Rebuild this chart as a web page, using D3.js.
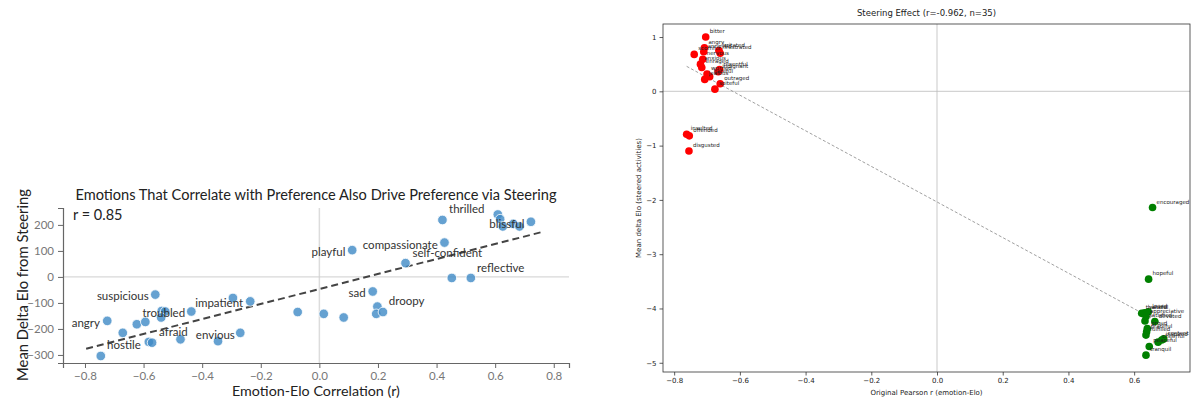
<!DOCTYPE html>
<html><head><meta charset="utf-8">
<script src="https://cdn.jsdelivr.net/npm/d3@7"></script>
<style>body{margin:0;background:#fff}svg{display:block}</style>
</head><body>
<svg id="c" width="1198" height="400"></svg>
<script>
// ---------- LEFT PANEL DATA ----------
const leftX = [0.42,0.609,0.617,0.626,0.662,0.683,0.722,0.427,0.112,0.294,0.452,0.517,0.182,
  -0.56,-0.295,-0.236,0.198,0.194,0.217,-0.074,0.015,0.083,-0.437,-0.538,-0.526,-0.54,
  -0.724,-0.623,-0.594,-0.671,-0.474,-0.582,-0.571,-0.346,-0.27,-0.746];
const leftY = [219,240,222,194,204,194,212,132,103,53,-4,-4,-56,
  -68,-81,-94,-114,-142,-135,-135,-142,-156,-133,-131,-133,-156,
  -169,-182,-173,-215,-240,-250,-253,-247,-215,-304];
const labelNames = ["thrilled","blissful","compassionate","self-confident","playful","reflective","sad",
  "suspicious","impatient","troubled","droopy","angry","afraid","envious","hostile"];
const labelX = [0.503,0.64,0.276,0.437,0.031,0.619,0.129,-0.671,-0.342,-0.531,0.298,-0.797,-0.498,-0.355,-0.667];
const labelY = [246,187,108,76,81,20,-76,-88,-117,-156,-108,-191,-226,-238,-278];
const leftTicksX = [-0.8,-0.6,-0.4,-0.2,0.0,0.2,0.4,0.6,0.8];
const leftTicksY = [-300,-200,-100,0,100,200];
const leftFitX = [-0.796, 0.761];
const leftFitY = [-276, 173];

// ---------- RIGHT PANEL DATA ----------
const rightNames = ["bitter","angry","annoyed","irritated","frustrated","scornful","nervous","anxious","enraged",
  "resentful","worried","hateful","jealous","indignant","outraged","spiteful","insulted","offended","disgusted",
  "encouraged","hopeful","thankful","valued","loved","appreciative","satisfied","devoted","proud","grateful",
  "fulfilled","content","inspired","cheerful","peaceful","tranquil"];
const rightX = [-0.704,-0.708,-0.710,-0.664,-0.660,-0.739,-0.713,-0.720,-0.716,-0.662,-0.700,-0.692,-0.707,-0.666,-0.660,-0.676,-0.762,-0.754,-0.755,
  0.656,0.644,0.623,0.632,0.643,0.636,0.633,0.663,0.640,0.638,0.636,0.690,0.684,0.673,0.646,0.636];
const rightY = [1.00,0.80,0.73,0.75,0.70,0.68,0.59,0.50,0.44,0.40,0.32,0.27,0.22,0.36,0.14,0.04,-0.79,-0.82,-1.10,
  -2.14,-3.46,-4.09,-4.08,-4.06,-4.15,-4.23,-4.24,-4.37,-4.43,-4.49,-4.56,-4.58,-4.62,-4.70,-4.86];
const rightTicksX = [-0.8,-0.6,-0.4,-0.2,0.0,0.2,0.4,0.6];
const rightTicksY = [-5,-4,-3,-2,-1,0,1];
const rightFitX = [-0.762, 0.690];
const rightFitY = [0.46, -4.30];

const svg = d3.select("#c");
svg.append("rect").attr("width",1198).attr("height",400).attr("fill","#fff");
const fmtMinus = s => String(s).replace("-", "\u2212");

// ================= LEFT =================
const LF = "Lato, 'Noto Sans', sans-serif";
const xL = d3.scaleLinear().domain([-0.875, 0.852]).range([63, 569]);
const yL = d3.scaleLinear().domain([-331, 265]).range([363, 208]);
const gL = svg.append("g");

gL.append("line").attr("x1",xL(0)).attr("x2",xL(0)).attr("y1",yL.range()[1]).attr("y2",yL.range()[0])
  .attr("stroke","#dcdcdc").attr("stroke-width",1.5);
gL.append("line").attr("x1",xL.range()[0]).attr("x2",xL.range()[1]).attr("y1",yL(0)).attr("y2",yL(0))
  .attr("stroke","#cfcfcf").attr("stroke-width",1);

const axL = gL.append("g").attr("transform",`translate(0,${yL.range()[0]})`)
  .call(d3.axisBottom(xL).tickValues(leftTicksX).tickFormat(d=>fmtMinus(d3.format(".1f")(d))).tickSize(5).tickPadding(4));
const ayL = gL.append("g").attr("transform",`translate(${xL.range()[0]},0)`)
  .call(d3.axisLeft(yL).tickValues(leftTicksY).tickFormat(d=>fmtMinus(d)).tickSize(5).tickPadding(4));
[axL, ayL].forEach(a=>{
  a.select(".domain").attr("stroke","#666").attr("stroke-width",1.2);
  a.selectAll(".tick line").attr("stroke","#666");
  a.selectAll(".tick text").attr("fill","#777").attr("font-size",11.5).attr("font-family",LF);
});

gL.append("line").attr("x1",xL(leftFitX[0])).attr("y1",yL(leftFitY[0])).attr("x2",xL(leftFitX[1])).attr("y2",yL(leftFitY[1]))
  .attr("stroke","#444").attr("stroke-width",2).attr("stroke-dasharray","7,4");

gL.selectAll("circle.p").data(leftX.map((x,i)=>[x,leftY[i]])).join("circle")
  .attr("cx",d=>xL(d[0])).attr("cy",d=>yL(d[1])).attr("r",4.8)
  .attr("fill","#3f8ac6").attr("fill-opacity",0.8).attr("stroke","#fff").attr("stroke-width",0.8);

gL.selectAll("text.lab").data(labelNames).join("text")
  .attr("x",(d,i)=>xL(labelX[i])).attr("y",(d,i)=>yL(labelY[i]))
  .attr("text-anchor","middle").attr("font-family",LF).attr("font-size",11.5).attr("fill","#333").text(d=>d);

gL.append("text").attr("x",316).attr("y",200).attr("text-anchor","middle").attr("font-family",LF)
  .attr("font-size",14.6).attr("fill","#222").text("Emotions That Correlate with Preference Also Drive Preference via Steering");
gL.append("text").attr("x",73).attr("y",220).attr("font-family",LF).attr("font-size",14.5).attr("fill","#222").text("r = 0.85");
gL.append("text").attr("x",316).attr("y",396).attr("text-anchor","middle").attr("font-family",LF)
  .attr("font-size",14.3).attr("fill","#222").text("Emotion-Elo Correlation (r)");
gL.append("text").attr("transform","translate(28,285) rotate(-90)").attr("text-anchor","middle").attr("font-family",LF)
  .attr("font-size",14.8).attr("fill","#222").text("Mean Delta Elo from Steering");

// ================= RIGHT =================
const RF = "'DejaVu Sans', sans-serif";
const xR = d3.scaleLinear().domain([-0.834, 0.770]).range([663, 1190]);
const yR = d3.scaleLinear().domain([-5.17, 1.24]).range([372, 24]);
const gR = svg.append("g");

gR.append("line").attr("x1",xR.range()[0]).attr("x2",xR.range()[1]).attr("y1",yR(0)).attr("y2",yR(0))
  .attr("stroke","#bbb").attr("stroke-width",0.8);
gR.append("line").attr("x1",xR(0)).attr("x2",xR(0)).attr("y1",yR.range()[1]).attr("y2",yR.range()[0])
  .attr("stroke","#bbb").attr("stroke-width",0.8);

gR.append("line").attr("x1",xR(rightFitX[0])).attr("y1",yR(rightFitY[0])).attr("x2",xR(rightFitX[1])).attr("y2",yR(rightFitY[1]))
  .attr("stroke","#888").attr("stroke-width",0.8).attr("stroke-dasharray","3,2");

gR.selectAll("circle.q").data(rightX.map((x,i)=>[x,rightY[i]])).join("circle")
  .attr("cx",d=>xR(d[0])).attr("cy",d=>yR(d[1])).attr("r",3.8)
  .attr("fill",d=>d[0]<0?"#ff0000":"#008000");

gR.selectAll("text.rl").data(rightNames).join("text")
  .attr("x",(d,i)=>xR(rightX[i])+4).attr("y",(d,i)=>yR(rightY[i])-4)
  .attr("font-family",RF).attr("font-size",5.5).attr("fill","#222").text(d=>d);

gR.append("rect").attr("x",xR.range()[0]).attr("y",yR.range()[1]).attr("width",xR.range()[1]-xR.range()[0])
  .attr("height",yR.range()[0]-yR.range()[1]).attr("fill","none").attr("stroke","#333").attr("stroke-width",0.8);

const axR = gR.append("g").attr("transform",`translate(0,${yR.range()[0]})`)
  .call(d3.axisBottom(xR).tickValues(rightTicksX).tickFormat(d=>fmtMinus(d3.format(".1f")(d))).tickSize(3.5).tickPadding(3));
const ayR = gR.append("g").attr("transform",`translate(${xR.range()[0]},0)`)
  .call(d3.axisLeft(yR).tickValues(rightTicksY).tickFormat(d=>fmtMinus(d)).tickSize(3.5).tickPadding(3));
[axR, ayR].forEach(a=>{
  a.select(".domain").remove();
  a.selectAll(".tick line").attr("stroke","#333").attr("stroke-width",0.8);
  a.selectAll(".tick text").attr("fill","#222").attr("font-size",7).attr("font-family",RF);
});

gR.append("text").attr("x",926.5).attr("y",16).attr("text-anchor","middle").attr("font-family",RF)
  .attr("font-size",8.5).attr("fill","#222").text("Steering Effect (r=-0.962, n=35)");
gR.append("text").attr("x",926.5).attr("y",395).attr("text-anchor","middle").attr("font-family",RF)
  .attr("font-size",7).attr("fill","#222").text("Original Pearson r (emotion-Elo)");
gR.append("text").attr("transform","translate(641,198) rotate(-90)").attr("text-anchor","middle").attr("font-family",RF)
  .attr("font-size",7).attr("fill","#222").text("Mean delta Elo (steered activities)");
</script>
</body></html>
